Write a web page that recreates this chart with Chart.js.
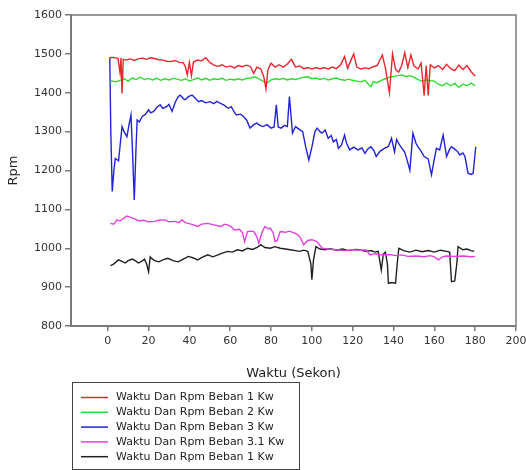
<!DOCTYPE html>
<html>
<head>
<meta charset="utf-8">
<script src="https://cdn.jsdelivr.net/npm/chart.js@4/dist/chart.umd.min.js"></script>
<style>
  body { margin: 0; background: #fff; }
  canvas { display: block; }
</style>
</head>
<body>
<canvas id="rpmChart" width="526" height="470"></canvas>
<script>
// [waktu (s), rpm]
var beban1 = [[1,1490],[3,1491],[5,1488],[6,1452],[6.5,1490],[7,1398],[7.6,1486],[9,1484],[11,1487],[13,1483],[15,1487],[17,1489],[19,1486],[21,1490],[23,1488],[25,1485],[27,1484],[29,1481],[31,1480],[33,1483],[35,1478],[37,1477],[38,1468],[39,1446],[40,1478],[41,1444],[42,1479],[44,1484],[46,1482],[48,1490],[50,1478],[52,1471],[54,1468],[56,1472],[58,1466],[60,1469],[62,1464],[64,1470],[66,1467],[68,1471],[70,1467],[71.5,1450],[73,1466],[75,1461],[76.5,1440],[77.5,1410],[78.5,1460],[80,1476],[82,1466],[84,1472],[86,1466],[88,1474],[90,1486],[92,1466],[94,1469],[96,1462],[98,1465],[100,1461],[102,1465],[104,1462],[106,1465],[108,1461],[110,1466],[112,1462],[114,1471],[116,1493],[117.5,1463],[119,1482],[120.5,1500],[122,1466],[124,1461],[126,1464],[128,1462],[130,1467],[132,1470],[134.5,1497],[136,1464],[138,1400],[139.5,1500],[141,1460],[142.5,1453],[144,1470],[145.5,1503],[147,1465],[148.5,1497],[150,1469],[152,1461],[153.5,1476],[155,1393],[156,1470],[157,1393],[158,1472],[160,1464],[162,1470],[164,1460],[166,1473],[168,1462],[170,1457],[172,1471],[174,1460],[176,1470],[178,1454],[180,1443]];
var beban2 = [[1,1425],[2,1430],[4,1428],[6,1432],[8,1436],[10,1430],[12,1438],[14,1434],[16,1440],[18,1434],[20,1437],[22,1433],[24,1437],[26,1432],[28,1436],[30,1433],[32,1437],[34,1435],[36,1432],[38,1436],[40,1430],[42,1434],[44,1438],[46,1433],[48,1437],[50,1432],[52,1436],[54,1434],[56,1437],[58,1432],[60,1435],[62,1433],[64,1436],[66,1433],[68,1437],[70,1438],[72,1441],[74,1436],[76,1430],[78,1425],[80,1433],[82,1436],[84,1434],[86,1437],[88,1433],[90,1436],[92,1434],[94,1437],[96,1440],[98,1441],[100,1436],[102,1438],[104,1434],[106,1437],[108,1433],[110,1436],[112,1438],[114,1434],[116,1432],[118,1435],[120,1432],[122,1430],[124,1428],[126,1432],[128,1420],[129,1416],[130,1428],[132,1426],[134,1432],[136,1436],[138,1440],[140,1442],[142,1444],[144,1446],[146,1442],[148,1444],[150,1440],[152,1434],[154,1430],[156,1433],[158,1431],[160,1430],[162,1422],[164,1418],[166,1425],[168,1418],[170,1424],[172,1414],[174,1422],[176,1418],[178,1425],[180,1418]];
var beban3 = [[1,1490],[1.5,1300],[2.2,1146],[3,1200],[3.7,1231],[5.3,1225],[7,1313],[8,1300],[9.4,1287],[10.5,1320],[11.4,1343],[12.2,1240],[13,1124],[13.8,1250],[14.4,1330],[15.5,1325],[16.9,1339],[18.5,1345],[20,1356],[21,1348],[22.5,1352],[24,1362],[25.7,1369],[27,1360],[29,1365],[30,1370],[31.5,1352],[33,1375],[34.5,1390],[35.5,1394],[37,1385],[38,1382],[39.5,1390],[41.3,1394],[43,1385],[44.5,1377],[46,1380],[48,1374],[50,1377],[52,1372],[53.5,1378],[55,1373],[57,1368],[59,1360],[60.5,1364],[62,1350],[63,1343],[65,1345],[66.5,1339],[68,1330],[69.7,1309],[71.5,1318],[73,1322],[74.5,1316],[76,1313],[78,1318],[80,1309],[81.5,1312],[82.6,1369],[83.5,1312],[85,1309],[86.5,1316],[88,1313],[89,1390],[90.5,1296],[92,1313],[94,1305],[95.5,1300],[97,1260],[98.5,1227],[100,1260],[101.5,1300],[102.6,1309],[104,1300],[105,1296],[106.5,1304],[108,1283],[109.5,1290],[110.5,1274],[112,1280],[113,1257],[114.5,1265],[116,1291],[117,1270],[118.5,1253],[120.5,1260],[122.6,1253],[124.5,1258],[126,1244],[127.5,1256],[129,1261],[130.5,1250],[131.5,1236],[133.5,1250],[135.5,1257],[137.5,1262],[139,1283],[140.5,1248],[141.5,1280],[143,1265],[145.4,1248],[146.5,1230],[148,1201],[149.5,1296],[151,1270],[152,1261],[153.5,1250],[155,1236],[157,1230],[158.6,1189],[160,1230],[161,1257],[162.6,1253],[164.3,1291],[166,1236],[167.5,1255],[168.4,1261],[170,1255],[171.5,1248],[172.5,1240],[174,1245],[175,1236],[176.5,1193],[178,1190],[179,1193],[180.3,1261]];
var beban31 = [[1.3,1064],[3,1062],[4.5,1073],[6,1070],[7.5,1076],[9.4,1083],[11,1080],[13.5,1075],[15.5,1070],[17.6,1072],[20,1068],[23,1069],[25,1072],[28,1073],[30,1068],[33,1069],[35,1066],[36.3,1073],[38,1066],[39.5,1064],[42,1060],[44,1056],[46,1062],[49,1064],[52,1060],[55.5,1056],[57,1062],[58.7,1060],[60.5,1055],[62,1047],[64.5,1049],[66,1040],[67,1017],[68.5,1043],[70,1044],[71.6,1043],[73,1030],[74,1013],[75.5,1040],[77,1056],[78.5,1050],[79.6,1052],[81,1040],[82,1017],[83,1020],[84.5,1043],[87,1041],[89,1044],[91,1040],[93,1035],[94.5,1026],[96,1009],[98,1020],[100,1022],[102.5,1017],[105,1000],[108,998],[112,996],[116,994],[120,996],[124,995],[126.4,996],[128.5,983],[131,986],[134,983],[138,984],[141,981],[144,983],[147,979],[151,980],[155,978],[158,981],[160,978],[162,970],[164,978],[166,980],[170,979],[174,980],[178,978],[180,979]];
var beban1b = [[1.3,955],[3,960],[5.3,970],[7,966],[8.6,962],[10,968],[12,972],[13.5,968],[15,962],[16.5,966],[18,972],[19,960],[20,940],[20.8,978],[21.5,974],[23,968],[25,965],[27,970],[29.5,974],[32,968],[34.5,965],[37,972],[39.5,979],[42,975],[44,970],[46,976],[49,983],[51.5,978],[54,983],[56.5,988],[58.7,992],[61,990],[63.6,996],[66,993],[68.5,1000],[71,997],[73.4,1003],[75,1009],[77,1002],[79.6,1000],[82,1004],[84.5,1000],[87,998],[89.4,996],[92,994],[94,992],[96,995],[98,992],[99.5,960],[100,919],[100.8,970],[102,1004],[104,998],[106.5,996],[109,999],[112,995],[115,998],[118,994],[121,997],[123,996],[126.4,992],[129,994],[131,990],[132.5,992],[133.5,960],[134,944],[135,985],[136,990],[137,960],[137.5,910],[139,912],[141,910],[141.8,960],[142.6,1000],[145,994],[148,990],[151,995],[154,991],[157,994],[160,990],[163,995],[166,992],[167.5,990],[168.4,914],[170,916],[171,960],[171.6,1004],[174,996],[176,998],[178,994],[179.5,992]];

var seriesLabels = ['Waktu Dan Rpm Beban 1 Kw', 'Waktu Dan Rpm Beban 2 Kw', 'Waktu Dan Rpm Beban 3 Kw', 'Waktu Dan Rpm Beban 3.1 Kw', 'Waktu Dan Rpm Beban 1 Kw'];
var seriesColors = ['#e8262c', '#2cdc2c', '#2222d8', '#e040e0', '#202020'];
var allSeries = [beban1, beban2, beban3, beban31, beban1b];
var xTicks = [0, 20, 40, 60, 80, 100, 120, 140, 160, 180, 200];

var fontFamily = '"DejaVu Sans", Arial, sans-serif';
var axisGray = '#7a7a7a';

function toPoints(pairs) {
    return pairs.map(function (p) { return { x: p[0], y: p[1] }; });
}

var datasets = allSeries.map(function (s, i) {
    return {
        label: seriesLabels[i],
        data: toPoints(s),
        borderColor: seriesColors[i],
        backgroundColor: seriesColors[i],
        borderWidth: 1.4,
        pointRadius: 0,
        tension: 0,
        fill: false
    };
});

// frame on top and right of the plot area
var frameLines = {
    id: 'frameLines',
    afterDraw: function (chart) {
        var a = chart.chartArea;
        var ctx = chart.ctx;
        ctx.save();
        ctx.strokeStyle = axisGray;
        ctx.lineWidth = 1.5;
        ctx.beginPath();
        ctx.moveTo(a.left, a.top);
        ctx.lineTo(a.right, a.top);
        ctx.lineTo(a.right, a.bottom);
        ctx.stroke();
        ctx.restore();
    }
};

// boxed legend under the plot, like the original
var boxLegend = {
    id: 'boxLegend',
    afterDraw: function (chart) {
        var ctx = chart.ctx;
        ctx.save();
        ctx.strokeStyle = '#444';
        ctx.lineWidth = 1;
        ctx.strokeRect(72.5, 382.5, 227, 87);
        ctx.font = '11px ' + fontFamily;
        ctx.textBaseline = 'middle';
        ctx.fillStyle = '#222';
        chart.data.datasets.forEach(function (ds, i) {
            var y = 397.5 + i * 14.8;
            ctx.strokeStyle = ds.borderColor;
            ctx.lineWidth = 1.5;
            ctx.beginPath();
            ctx.moveTo(81, y);
            ctx.lineTo(108, y);
            ctx.stroke();
            ctx.fillText(ds.label, 116, y);
        });
        ctx.restore();
    }
};

function plainNumber(value) {
    return String(value);
}

var chartElement = document.getElementById('rpmChart').getContext('2d');
var chartObject = new Chart(chartElement, {
    type: 'line',
    data: { datasets: datasets },
    plugins: [frameLines, boxLegend],
    options: {
        responsive: false,
        animation: false,
        layout: { padding: { left: 0, top: 15, right: 10, bottom: 89 } },
        plugins: {
            legend: { display: false },
            tooltip: { enabled: false }
        },
        scales: {
            x: {
                type: 'linear',
                min: -18,
                max: 200,
                afterBuildTicks: function (scale) {
                    scale.ticks = xTicks.map(function (v) { return { value: v }; });
                },
                afterFit: function (scale) {
                    scale.height = 55;
                    scale.paddingLeft = 0;
                    scale.paddingRight = 0;
                },
                ticks: {
                    color: '#333',
                    font: { family: fontFamily, size: 11 },
                    padding: 4,
                    maxRotation: 0,
                    autoSkip: false,
                    callback: plainNumber
                },
                grid: { drawOnChartArea: false, drawTicks: true, tickLength: 5, color: axisGray, lineWidth: 1.5 },
                border: { display: true, color: axisGray, width: 2 },
                title: {
                    display: true,
                    text: 'Waktu (Sekon)',
                    color: '#222',
                    font: { family: fontFamily, size: 13 },
                    padding: { top: 0, bottom: 0 }
                }
            },
            y: {
                min: 800,
                max: 1600,
                afterFit: function (scale) {
                    scale.width = 71;
                },
                ticks: {
                    stepSize: 100,
                    color: '#333',
                    font: { family: fontFamily, size: 11 },
                    padding: 3,
                    callback: plainNumber
                },
                grid: { drawOnChartArea: false, drawTicks: true, tickLength: 6, color: axisGray, lineWidth: 1.5 },
                border: { display: true, color: axisGray, width: 2 },
                title: {
                    display: true,
                    text: 'Rpm',
                    color: '#222',
                    font: { family: fontFamily, size: 13 },
                    padding: { top: 6, bottom: 0 }
                }
            }
        }
    }
});
</script>
</body>
</html>
